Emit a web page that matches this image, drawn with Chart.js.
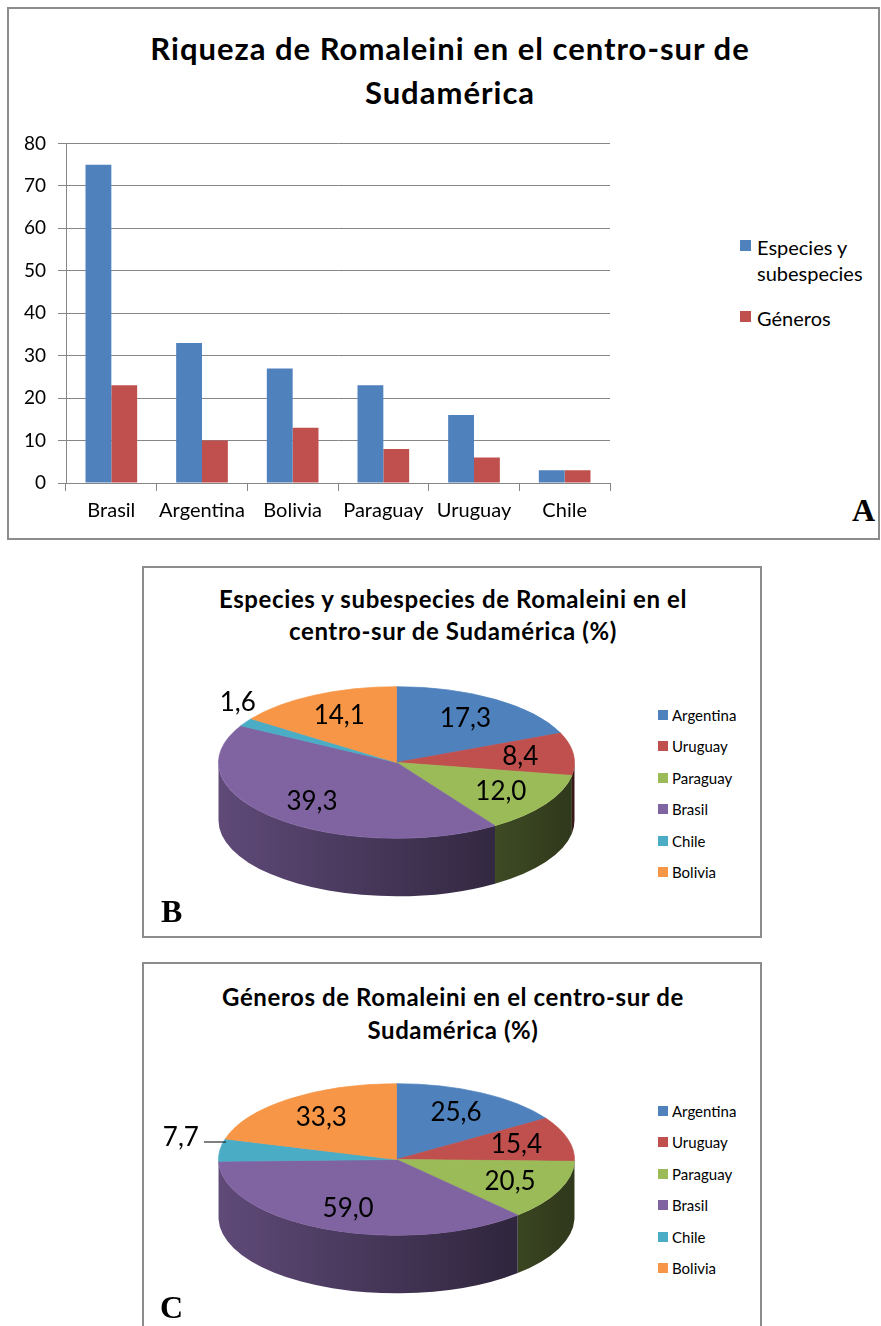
<!DOCTYPE html>
<html lang="es">
<head>
<meta charset="utf-8">
<title>Riqueza de Romaleini</title>
<script src="https://cdn.jsdelivr.net/npm/chart.js@4.4.1/dist/chart.umd.min.js"></script>
<style>
  html, body { margin: 0; padding: 0; background: #fff; }
  body { width: 881px; height: 1326px; position: relative; overflow: hidden;
         font-family: Lato, "Open Sans", sans-serif; color: #000; }
  .box { position: absolute; box-sizing: border-box; border: 2px solid #8c8c8c; }
  .ttl { position: absolute; text-align: center; font-weight: bold; white-space: nowrap; }
  .tag { position: absolute; font-family: "Liberation Serif", "Times New Roman", serif;
         font-weight: bold; font-size: 32px; line-height: 32px; }
  canvas { position: absolute; }
  .leg-item { position: absolute; white-space: nowrap; }
  .leg-item .sw { position: absolute; left: 0; }
</style>
</head>
<body>

<div class="box" style="left:7px;top:7px;width:873px;height:533px"></div>
<div class="ttl" style="left:0;width:900px;top:26px;font-size:31px;line-height:44px;letter-spacing:1px">Riqueza de Romaleini en el centro-sur de<br>Sudamérica</div>
<canvas id="bar-chart" width="612" height="408" style="left:8px;top:120px"></canvas>
<div id="bar-legend"></div>
<div class="tag" style="left:852px;top:494px">A</div>

<div class="box" style="left:142px;top:566px;width:620px;height:372px"></div>
<div class="ttl" style="left:3px;width:900px;top:583px;font-size:24px;line-height:32px;letter-spacing:0.6px">Especies y subespecies de Romaleini en el<br>centro-sur de Sudamérica (%)</div>
<canvas id="pie-especies" width="497" height="357" style="left:148px;top:584px"></canvas>
<div id="leg-especies"></div>
<div class="tag" style="left:161px;top:895px">B</div>

<div class="box" style="left:142px;top:962px;width:620px;height:380px"></div>
<div class="ttl" style="left:3px;width:900px;top:980px;font-size:24px;line-height:33px;letter-spacing:0.6px">Géneros de Romaleini en el centro-sur de<br>Sudamérica (%)</div>
<canvas id="pie-generos" width="497" height="357" style="left:148px;top:981px"></canvas>
<div id="leg-generos"></div>
<div class="tag" style="left:160px;top:1291px">C</div>

<script>
// --- data (A) ---
const countries = ["Brasil", "Argentina", "Bolivia", "Paraguay", "Uruguay", "Chile"];
const especies = [75, 33, 27, 23, 16, 3];
const generos = [23, 10, 13, 8, 6, 3];
const seriesNames = ["Especies y subespecies", "Géneros"];
const seriesColors = ["#4F81BD", "#C0504D"];
const yMax = 80;
const yStep = 10;

// --- data (B, C) ---
const pieCountries = ["Argentina", "Uruguay", "Paraguay", "Brasil", "Chile", "Bolivia"];
const pctEspecies = [17.3, 8.4, 12.0, 39.3, 1.6, 14.1];
const pctGeneros = [25.6, 15.4, 20.5, 59.0, 7.7, 33.3];
const pieColors = ["#4F81BD", "#C0504D", "#9BBB59", "#8064A2", "#4BACC6", "#F79646"];

Chart.defaults.font.family = "Lato, 'Open Sans', sans-serif";
Chart.defaults.color = "#000";

const GRID = "#868686";

new Chart(document.getElementById("bar-chart"), {
  type: "bar",
  data: {
    labels: countries,
    datasets: [
      { label: seriesNames[0], data: especies, backgroundColor: seriesColors[0] },
      { label: seriesNames[1], data: generos, backgroundColor: seriesColors[1] },
    ],
  },
  options: {
    responsive: false,
    animation: false,
    categoryPercentage: 0.57,
    barPercentage: 1.0,
    layout: { padding: { top: 19, right: 10, left: 0, bottom: 0 } },
    plugins: { legend: { display: false }, tooltip: { enabled: false } },
    scales: {
      x: {
        grid: { drawOnChartArea: false, drawTicks: true, tickLength: 8, color: GRID, offset: true },
        border: { display: true, color: GRID },
        ticks: { font: { size: 20 }, padding: 8, maxRotation: 0 },
        afterFit: (s) => { s.height = 45; },
      },
      y: {
        min: 0, max: yMax,
        ticks: { stepSize: yStep, font: { size: 19 }, padding: 12 },
        grid: { color: GRID, tickLength: 8 },
        border: { display: true, color: GRID },
        afterFit: (s) => { s.width = 58; },
      },
    },
  },
});

// legend A (html)
(function () {
  const host = document.getElementById("bar-legend");
  const tops = [234, 305];
  seriesNames.forEach((name, i) => {
    const item = document.createElement("div");
    item.className = "leg-item";
    item.style.cssText = `left:740px;top:${tops[i]}px;font-size:20px;line-height:26px;white-space:normal;width:135px`;
    item.innerHTML = `<span class="sw" style="top:6px;width:11px;height:11px;background:${seriesColors[i]}"></span>
      <div style="margin-left:17px;width:115px">${name}</div>`;
    host.appendChild(item);
  });
})();

function pieLegend(hostId, firstCenter) {
  const host = document.getElementById(hostId);
  pieCountries.forEach((name, i) => {
    const item = document.createElement("div");
    item.className = "leg-item";
    const top = firstCenter - 10 + i * 31.4;
    item.style.cssText = `left:658px;top:${top}px;font-size:15px;line-height:20px`;
    item.innerHTML = `<span class="sw" style="top:5px;width:10px;height:10px;background:${pieColors[i]}"></span>
      <span style="margin-left:14px">${name}</span>`;
    host.appendChild(item);
  });
}
pieLegend("leg-especies", 715);
pieLegend("leg-generos", 1111);

function shade(hex, t) {
  const n = parseInt(hex.slice(1), 16);
  const r = Math.round(((n >> 16) & 255) * t);
  const g = Math.round(((n >> 8) & 255) * t);
  const b = Math.round((n & 255) * t);
  return `rgb(${r},${g},${b})`;
}

// fake 3D: squash the pie vertically and extrude the front rim
const pie3d = {
  id: "pie3d",
  beforeDatasetsDraw(chart, args, o) {
    const ctx = chart.ctx;
    const meta = chart.getDatasetMeta(0);
    const a0 = meta.data[0];
    const cx = a0.x, cy = a0.y, r = a0.outerRadius;
    const D = o.depth / o.tilt;
    ctx.save();
    ctx.translate(0, cy);
    ctx.scale(1, o.tilt);
    ctx.translate(0, -cy);
    meta.data.forEach((arc, i) => {
      const a = Math.max(arc.startAngle, 0);
      const b = Math.min(arc.endAngle, Math.PI);
      if (b <= a) return;
      const base = chart.data.datasets[0].backgroundColor[i];
      const g = ctx.createLinearGradient(cx - r, 0, cx + r, 0);
      g.addColorStop(0, shade(base, 0.74));
      g.addColorStop(1, shade(base, 0.3));
      ctx.fillStyle = g;
      ctx.beginPath();
      ctx.arc(cx, cy, r, a, b);
      ctx.arc(cx, cy + D, r, b, a, true);
      ctx.closePath();
      ctx.fill();
    });
  },
  afterDatasetsDraw(chart) {
    chart.ctx.restore();
  },
  afterDraw(chart, args, o) {
    const ctx = chart.ctx;
    const meta = chart.getDatasetMeta(0);
    const vals = chart.data.datasets[0].data;
    const total = vals.reduce((s, v) => s + v, 0);
    ctx.save();
    ctx.font = "26px Lato, 'Open Sans', sans-serif";
    ctx.fillStyle = "#000";
    ctx.strokeStyle = "#000";
    ctx.textAlign = "center";
    ctx.textBaseline = "middle";
    meta.data.forEach((arc, i) => {
      const m = (arc.startAngle + arc.endAngle) / 2;
      const txt = vals[i].toFixed(1).replace(".", ",");
      const r = arc.outerRadius;
      if (vals[i] / total >= 0.05) {
        const f = o.labelAt;
        ctx.fillText(txt, arc.x + f * r * Math.cos(m), arc.y + o.tilt * f * r * Math.sin(m));
      } else {
        const ex = arc.x + r * Math.cos(m);
        const ey = arc.y + o.tilt * r * Math.sin(m);
        const lx = ex + o.outside.dx, ly = ey + o.outside.dy;
        ctx.fillText(txt, lx, ly);
        if (o.outside.leader) {
          const w = ctx.measureText(txt).width;
          ctx.lineWidth = 1;
          ctx.beginPath();
          ctx.moveTo(lx + w / 2 + 5, ly + 4);
          ctx.lineTo(ex + 6, ly + 4);
          ctx.stroke();
        }
      }
    });
    ctx.restore();
  },
};

function makePie(id, values, outside) {
  return new Chart(document.getElementById(id), {
    type: "pie",
    data: {
      labels: pieCountries,
      datasets: [{
        data: values,
        backgroundColor: pieColors,
        borderColor: pieColors,
        borderWidth: 1,
        clip: false,
      }],
    },
    options: {
      responsive: false,
      animation: false,
      rotation: 0,
      layout: { padding: { left: 70, right: 70, top: 0, bottom: 0 } },
      plugins: {
        legend: { display: false },
        tooltip: { enabled: false },
        pie3d: { tilt: 0.426, depth: 58, labelAt: 0.7, outside },
      },
    },
    plugins: [pie3d],
  });
}

makePie("pie-especies", pctEspecies, { dx: -8, dy: -20, leader: false });
makePie("pie-generos", pctGeneros, { dx: -39, dy: -12, leader: true });
</script>
</body>
</html>
